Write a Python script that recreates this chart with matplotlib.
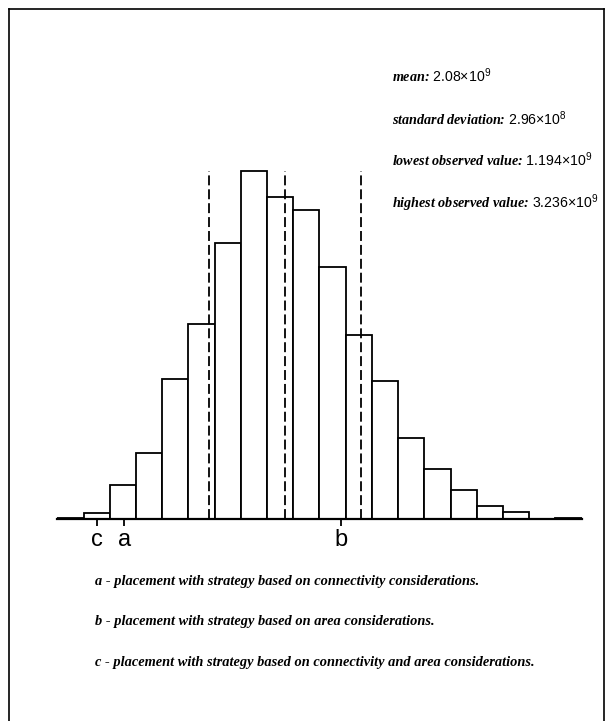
import numpy as np
import matplotlib
matplotlib.use("Agg")
import matplotlib.pyplot as plt
from matplotlib.lines import Line2D

# values in units of 1e9
lowest = 1.194
highest = 3.236
mean = 2.08
std = 0.296
n_bins = 20
counts = [1, 5, 28, 54, 114, 159, 225, 284, 263, 252,
          206, 150, 113, 66, 41, 24, 11, 6, 0, 1]

marker_names = ["c", "a", "b"]
marker_values = [1.347, 1.455, 2.30]

stats_labels = ["mean", "standard deviation", "lowest observed value", "highest observed value"]
stats_values = [r"$2.08{\times}10^{9}$", r"$2.96{\times}10^{8}$",
                r"$1.194{\times}10^{9}$", r"$3.236{\times}10^{9}$"]

captions = [
    "a - placement with strategy based on connectivity considerations.",
    "b - placement with strategy based on area considerations.",
    "c - placement with strategy based on connectivity and area considerations.",
]

plt.rcParams["mathtext.fontset"] = "custom"
plt.rcParams["mathtext.rm"] = "Liberation Sans"

W, H = 607, 721
fig = plt.figure(figsize=(W / 100, H / 100), dpi=100)

# axes: baseline at y=519px, x spans lowest..highest observed value
base_px, top_px = 519, 100
ax = fig.add_axes([57.3 / W, (H - base_px) / H, 524.4 / W, (base_px - top_px) / H])

edges = np.linspace(lowest, highest, n_bins + 1)
bw = edges[1] - edges[0]
ax.bar(edges[:-1], counts, width=bw, align="edge", facecolor="white",
       edgecolor="black", linewidth=1.3)

ax.vlines([mean - std, mean, mean + std], 0, max(counts), colors="black",
          linestyles=(0, (5.5, 2.2)), linewidth=1.3)

ax.set_xlim(lowest, highest)
ax.set_ylim(0, max(counts) * (base_px - top_px) / (base_px - 171))
for s in ["top", "left", "right"]:
    ax.spines[s].set_visible(False)
ax.spines["bottom"].set_linewidth(1.6)
ax.set_yticks([])
ax.set_xticks(marker_values)
ax.set_xticklabels(marker_names, fontfamily="Liberation Sans", fontsize=17)
ax.tick_params(axis="x", direction="out", length=5, width=1.3, pad=2)

stat_font = dict(family="Liberation Serif", style="italic", weight="bold", fontsize=10.2)
cap_font = dict(family="Liberation Serif", style="italic", weight="bold", fontsize=10.4)

for i, (lab, val) in enumerate(zip(stats_labels, stats_values)):
    y = [82, 124.5, 166, 208][i]
    fig.text(392 / W, 1 - y / H, f"{lab}: {val}", va="baseline", ha="left", **stat_font)

for i, cap in enumerate(captions):
    y = [585, 625, 666][i]
    fig.text(95 / W, 1 - y / H, cap, va="baseline", ha="left", **cap_font)

# page frame
lx, rx, ty = 9 / W, 604 / W, 1 - 9 / H
for xs, ys in [([lx, lx], [0, ty]), ([lx, rx], [ty, ty]), ([rx, rx], [ty, 0])]:
    fig.add_artist(Line2D(xs, ys, transform=fig.transFigure, color="black", linewidth=1.2))

fig.savefig("out.png", dpi=100)
